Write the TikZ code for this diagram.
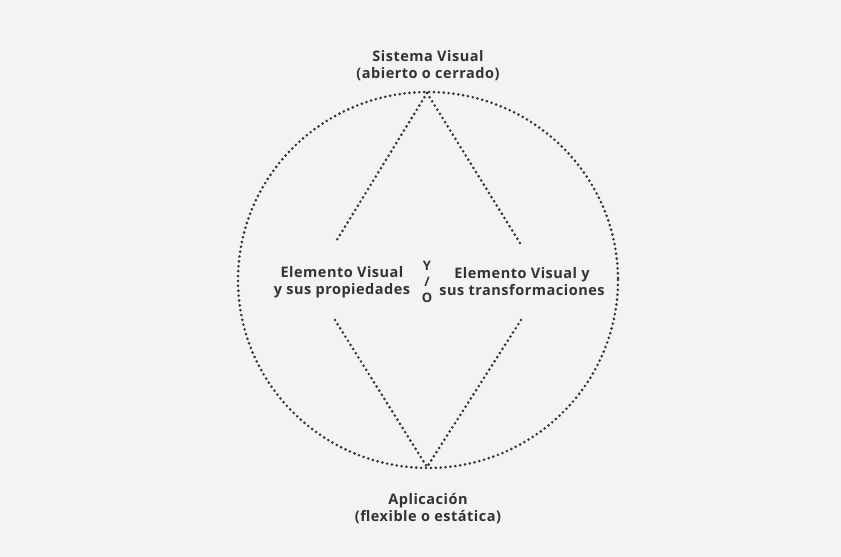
\documentclass[tikz,border=0pt]{standalone}
\usepackage{fontspec}
\setmainfont{Open Sans}[LetterSpace=3.5]
\usepackage{xcolor}
\usetikzlibrary{positioning, calc}

\definecolor{bgcol}{HTML}{F3F3F3}
\definecolor{inkcol}{HTML}{333333}

\begin{document}
\begin{tikzpicture}[
  x=1pt, y=-1pt,
  label/.style={align=center, font=\fontsize{14.5}{17}\selectfont\bfseries, text=inkcol, inner sep=0pt},
  dots/.style={draw=inkcol, line width=2.9pt, line cap=round, dash pattern=on 0pt off 4.9pt},
]
  \fill[bgcol] (0,0) rectangle (841,557);
  \useasboundingbox (0,0) rectangle (841,557);

  \node[label] (sis) at (428,66) {Sistema Visual\\(abierto o cerrado)};
  \node[label] (apl) at (428,509) {Aplicación\\(flexible o estática)};
  \node[label] (prop) at (342,282) {Elemento Visual\\y sus propiedades};
  \node[label] (trans) at (522,282) {Elemento Visual y\\sus transformaciones};
  \node[label, font=\fontsize{13}{16}\selectfont\bfseries] (yo) at (427,282) {Y\\/\\O};

  \coordinate (top) at (427,93);
  \coordinate (bot) at (427,467);
  \coordinate (pl1) at (335,243);
  \coordinate (pr1) at (520,243);
  \coordinate (pl2) at (335,320);
  \coordinate (pr2) at (521,320);

  \draw[dots] (428,280) ellipse (190 and 188);

  \draw[dots] (top) -- (pl1);
  \draw[dots] (top) -- (pr1);
  \draw[dots] (pl2) -- (bot);
  \draw[dots] (pr2) -- (bot);
\end{tikzpicture}
\end{document}
